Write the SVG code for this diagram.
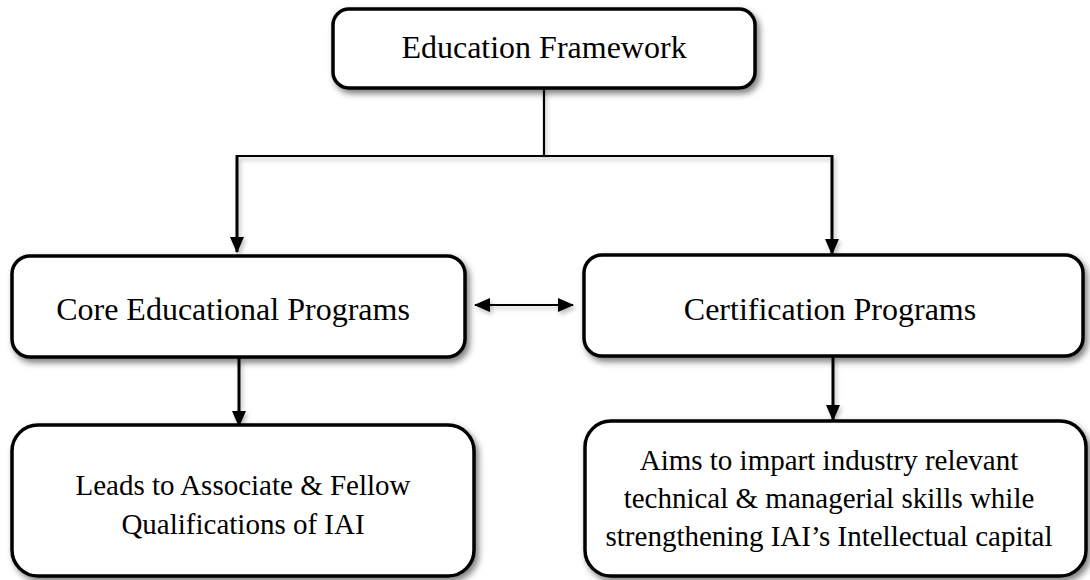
<svg xmlns="http://www.w3.org/2000/svg" width="1090" height="580" viewBox="0 0 1090 580">
<defs>
<filter id="sh" x="-10%" y="-10%" width="125%" height="130%">
<feDropShadow dx="3" dy="4" stdDeviation="3" flood-color="#000" flood-opacity="0.5"/>
</filter>
<filter id="lsh" x="-10%" y="-50%" width="125%" height="300%">
<feDropShadow dx="2" dy="3" stdDeviation="2" flood-color="#000" flood-opacity="0.25"/>
</filter>
<marker id="ah" markerUnits="userSpaceOnUse" markerWidth="16" markerHeight="16" refX="15" refY="8" orient="auto-start-reverse">
<path d="M0,1 L16,8 L0,15 Z" fill="#000"/>
</marker>
</defs>
<style>
.box{fill:#fff;stroke:#000;stroke-width:3.5;filter:url(#sh)}
.t{font-family:"Liberation Serif","Times New Roman",serif;fill:#000;text-anchor:middle}
.big{font-size:32px}
.small{font-size:29px}
.ln{fill:none;stroke:#000;stroke-width:3}
.thin{stroke-width:2.2}
</style>
<g id="connectors" filter="url(#lsh)">
<path class="ln thin" d="M544,88 V156"/>
<path class="ln thin" d="M236,156 H833"/>
<path class="ln" d="M237,155 V252" marker-end="url(#ah)"/>
<path class="ln" d="M832,155 V254" marker-end="url(#ah)"/>
<path class="ln" d="M239,358 V426" marker-end="url(#ah)"/>
<path class="ln" d="M833,357 V420" marker-end="url(#ah)"/>
<path class="ln" style="stroke-width:1.8" d="M475,305 H573" marker-start="url(#ah)" marker-end="url(#ah)"/>
</g>
<g id="node-framework">
<rect class="box" x="333" y="9" width="422" height="79" rx="16"/>
<text class="t big" x="544" y="58">Education Framework</text>
</g>
<g id="node-core">
<rect class="box" x="12" y="256" width="453" height="101" rx="18"/>
<text class="t big" x="233" y="320">Core Educational Programs</text>
</g>
<g id="node-cert">
<rect class="box" x="584" y="255" width="499" height="101" rx="18"/>
<text class="t big" x="830" y="320">Certification Programs</text>
</g>
<g id="node-leads">
<rect class="box" x="12" y="425" width="462" height="151" rx="26"/>
<text class="t small" x="243" y="495">Leads to Associate &amp; Fellow</text>
<text class="t small" x="243" y="534">Qualifications of IAI</text>
</g>
<g id="node-aims">
<rect class="box" x="585" y="421" width="501" height="155" rx="26"/>
<text class="t small" x="829" y="470">Aims to impart industry relevant</text>
<text class="t small" x="829" y="508">technical &amp; managerial skills while</text>
<text class="t small" x="829" y="546">strengthening IAI’s Intellectual capital</text>
</g>
</svg>
